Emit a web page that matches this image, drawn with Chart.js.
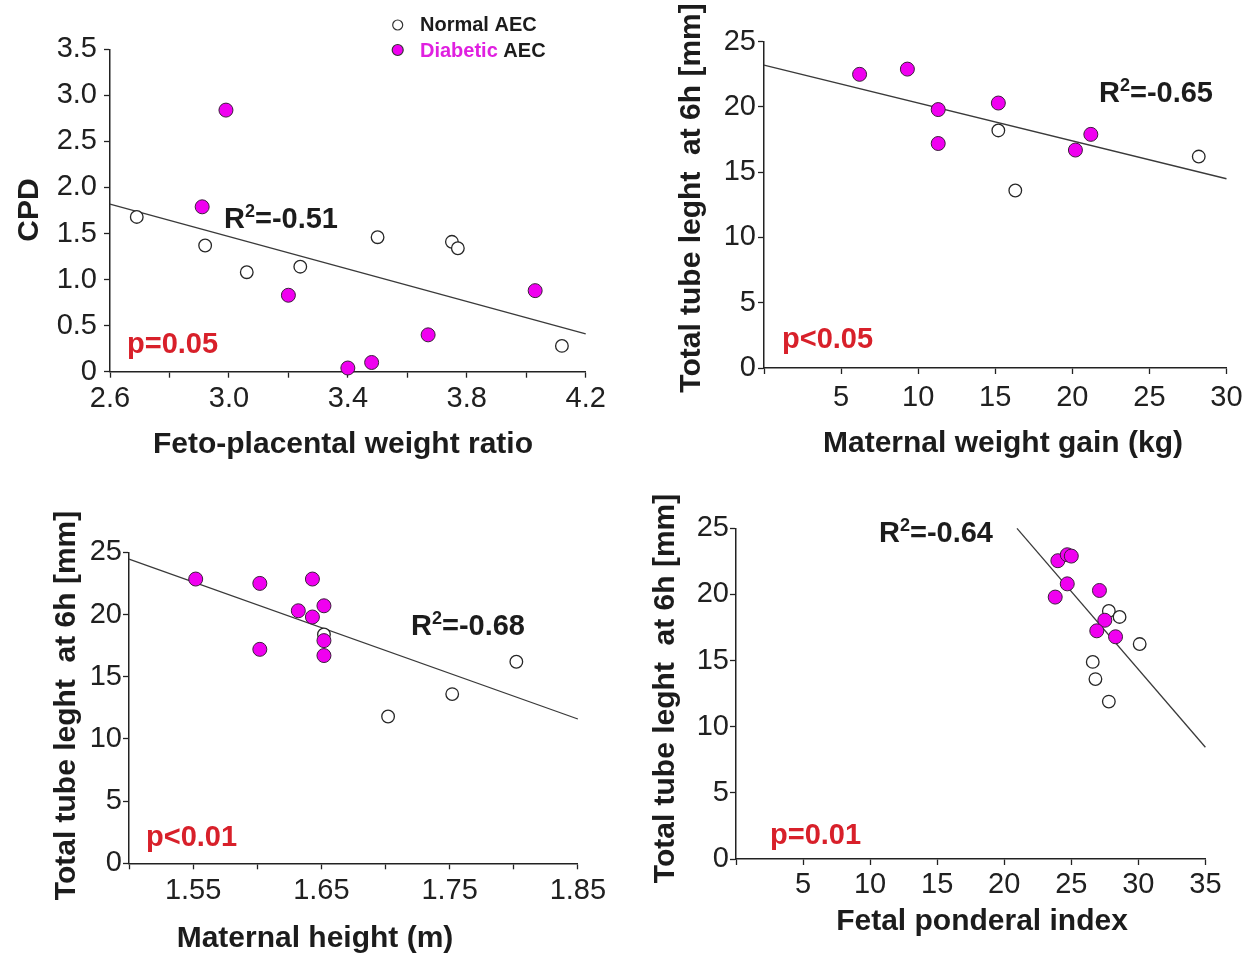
<!DOCTYPE html>
<html>
<head>
<meta charset="utf-8">
<script src="https://cdn.jsdelivr.net/npm/chart.js@4.4.1/dist/chart.umd.min.js"></script>
<style>
  html, body { margin: 0; padding: 0; background: #ffffff; }
  body { width: 1259px; height: 954px; position: relative; overflow: hidden; }
  canvas { position: absolute; }
</style>
</head>
<body>
<canvas id="panelA"></canvas>
<canvas id="panelB"></canvas>
<canvas id="panelC"></canvas>
<canvas id="panelD"></canvas>
<script>
// ---------- Panel A: CPD vs feto-placental weight ratio ----------
const ratioNormal    = [2.69, 2.92, 3.06, 3.24, 3.50, 3.75, 3.77, 4.12];
const cpdNormal      = [1.68, 1.37, 1.08, 1.14, 1.46, 1.41, 1.34, 0.28];
const ratioDiabetic  = [2.99, 2.91, 3.20, 3.40, 3.48, 3.67, 4.03];
const cpdDiabetic    = [2.84, 1.79, 0.83, 0.04, 0.10, 0.40, 0.88];
const ratioFit       = [2.6, 4.2];
const cpdFit         = [1.82, 0.41];
const ratioTicks     = [2.6, 2.8, 3.0, 3.2, 3.4, 3.6, 3.8, 4.0, 4.2];
const ratioTickText  = ['2.6', '', '3.0', '', '3.4', '', '3.8', '', '4.2'];
const cpdTicks       = [0, 0.5, 1.0, 1.5, 2.0, 2.5, 3.0, 3.5];
const cpdTickText    = ['0', '0.5', '1.0', '1.5', '2.0', '2.5', '3.0', '3.5'];

// ---------- Panel B: tube length vs maternal weight gain ----------
const gainNormal     = [15.2, 16.3, 28.2];
const tubeNormalB    = [18.2, 13.6, 16.2];
const gainDiabetic   = [6.2, 9.3, 11.3, 11.3, 15.2, 20.2, 21.2];
const tubeDiabeticB  = [22.5, 22.9, 19.8, 17.2, 20.3, 16.7, 17.9];
const gainFit        = [0, 30];
const tubeFitB       = [23.2, 14.5];
const gainTicks      = [0, 5, 10, 15, 20, 25, 30];
const gainTickText   = ['', '5', '10', '15', '20', '25', '30'];

// ---------- Panel C: tube length vs maternal height ----------
const heightNormal   = [1.652, 1.702, 1.752, 1.802];
const tubeNormalC    = [18.4, 11.8, 13.6, 16.2];
const heightDiabetic = [1.552, 1.602, 1.643, 1.632, 1.643, 1.652, 1.652, 1.652, 1.602];
const tubeDiabeticC  = [22.85, 22.5, 22.85, 20.3, 19.8, 20.7, 17.9, 16.7, 17.2];
const heightFit      = [1.50, 1.85];
const tubeFitC       = [24.45, 11.6];
const heightTicks    = [1.50, 1.55, 1.60, 1.65, 1.70, 1.75, 1.80, 1.85];
const heightTickText = ['', '1.55', '', '1.65', '', '1.75', '', '1.85'];

// ---------- Panel D: tube length vs fetal ponderal index ----------
const ponderalNormal   = [27.8, 28.6, 26.6, 26.8, 27.8, 30.1];
const tubeNormalD      = [18.75, 18.3, 14.9, 13.6, 11.9, 16.25];
const ponderalDiabetic = [24.0, 24.7, 25.0, 24.7, 23.8, 27.1, 27.5, 26.9, 28.3];
const tubeDiabeticD    = [22.55, 23.0, 22.9, 20.8, 19.8, 20.3, 18.05, 17.25, 16.8];
const ponderalFit      = [20.95, 35];
const tubeFitD         = [25.0, 8.45];
const ponderalTicks    = [0, 5, 10, 15, 20, 25, 30, 35];
const ponderalTickText = ['', '5', '10', '15', '20', '25', '30', '35'];

// shared y ticks for tube length
const tubeTicks    = [0, 5, 10, 15, 20, 25];
const tubeTickText = ['0', '5', '10', '15', '20', '25'];

const FONT = "'Liberation Sans', Arial, Helvetica, sans-serif";
const MAGENTA = '#f000f0';
const RED = '#d8202a';
const INK = '#1c1c1c';

function pts(xs, ys) { return xs.map((x, i) => ({ x: x, y: ys[i] })); }

function drawR2(ctx, x, y, value) {
  ctx.fillStyle = INK;
  ctx.textAlign = 'left';
  ctx.textBaseline = 'alphabetic';
  ctx.font = 'bold 29px ' + FONT;
  ctx.fillText('R', x, y);
  let w = ctx.measureText('R').width;
  ctx.font = 'bold 18px ' + FONT;
  ctx.fillText('2', x + w, y - 11);
  w += ctx.measureText('2').width;
  ctx.font = 'bold 29px ' + FONT;
  ctx.fillText('=' + value, x + w, y);
}

function notesPlugin(p) {
  return {
    id: 'notes' + p.id,
    afterDraw(chart) {
      const ctx = chart.ctx;
      const ox = p.box.x, oy = p.box.y;
      ctx.save();
      // y axis title
      ctx.save();
      ctx.translate(p.yTitle.x - ox, p.yTitle.y - oy);
      ctx.rotate(-Math.PI / 2);
      ctx.font = 'bold 30px ' + FONT;
      ctx.fillStyle = INK;
      ctx.textAlign = 'center';
      ctx.textBaseline = 'middle';
      ctx.fillText(p.yTitle.text, 0, 0);
      ctx.restore();
      // x axis title
      ctx.font = 'bold 30px ' + FONT;
      ctx.fillStyle = INK;
      ctx.textAlign = 'center';
      ctx.textBaseline = 'alphabetic';
      ctx.fillText(p.xTitle.text, p.xTitle.x - ox, p.xTitle.y - oy);
      // R squared
      drawR2(ctx, p.r2.x - ox, p.r2.y - oy, p.r2.text);
      // p value
      ctx.font = 'bold 29px ' + FONT;
      ctx.fillStyle = RED;
      ctx.textAlign = 'left';
      ctx.fillText(p.pv.text, p.pv.x - ox, p.pv.y - oy);
      // legend (panel A only)
      if (p.legend) {
        const L = p.legend;
        ctx.lineWidth = 1.2;
        ctx.strokeStyle = '#333';
        ctx.fillStyle = '#fff';
        ctx.beginPath(); ctx.arc(L.x - ox, L.y1 - oy, 5, 0, Math.PI * 2); ctx.fill(); ctx.stroke();
        ctx.fillStyle = MAGENTA;
        ctx.beginPath(); ctx.arc(L.x - ox, L.y2 - oy, 5.5, 0, Math.PI * 2); ctx.fill(); ctx.stroke();
        ctx.font = 'bold 20px ' + FONT;
        ctx.textBaseline = 'alphabetic';
        ctx.fillStyle = INK;
        ctx.fillText('Normal AEC', L.tx - ox, L.b1 - oy);
        ctx.fillStyle = '#e020e0';
        ctx.fillText('Diabetic', L.tx - ox, L.b2 - oy);
        const w = ctx.measureText('Diabetic ').width;
        ctx.fillStyle = INK;
        ctx.fillText('AEC', L.tx - ox + w, L.b2 - oy);
      }
      ctx.restore();
    }
  };
}

function axis(p, which) {
  const isX = which === 'x';
  const a = p.area;
  return {
    type: 'linear',
    min: isX ? p.xMin : p.yMin,
    max: isX ? p.xMax : p.yMax,
    afterBuildTicks: s => { s.ticks = (isX ? p.xTicks : p.yTicks).map(v => ({ value: v })); },
    afterFit: s => {
      if (isX) s.height = p.box.y + p.box.h - a.b;
      else s.width = a.l - p.box.x;
    },
    ticks: {
      autoSkip: false, maxRotation: 0, minRotation: 0,
      padding: isX ? p.xPad : p.yPad,
      color: '#202020',
      font: { family: FONT, size: 29 },
      callback: (v, i) => (isX ? p.xText : p.yText)[i]
    },
    grid: { display: true, drawOnChartArea: false, drawTicks: true, tickLength: 6, tickWidth: 1.3, tickColor: '#222' },
    border: { display: true, color: '#222', width: 1.5 }
  };
}

function panel(p) {
  const canvas = document.getElementById(p.id);
  canvas.width = p.box.w; canvas.height = p.box.h;
  canvas.style.left = p.box.x + 'px'; canvas.style.top = p.box.y + 'px';
  const a = p.area;
  new Chart(canvas, {
    type: 'scatter',
    data: {
      datasets: [
        { label: 'Diabetic AEC', data: pts(p.dx, p.dy), backgroundColor: MAGENTA, borderColor: '#3a1f3a',
          borderWidth: 1, pointRadius: 7, clip: false },
        { label: 'Normal AEC', data: pts(p.nx, p.ny), backgroundColor: '#ffffff', borderColor: '#262626',
          borderWidth: 1.3, pointRadius: 6.3, clip: false },
        { label: 'fit', data: pts(p.fx, p.fy), showLine: true, pointRadius: 0, borderColor: '#3a3a3a',
          borderWidth: 1.3, clip: false }
      ]
    },
    options: {
      responsive: false, animation: false, events: [],
      layout: { padding: { left: 0, top: a.t - p.box.y, right: p.box.x + p.box.w - a.r, bottom: 0 } },
      plugins: { legend: { display: false }, tooltip: { enabled: false } },
      scales: { x: axis(p, 'x'), y: axis(p, 'y') }
    },
    plugins: [notesPlugin(p)]
  });
}

panel({
  id: 'panelA', box: { x: 0, y: 0, w: 630, h: 477 }, area: { l: 110, t: 49.3, r: 585.7, b: 371.7 },
  nx: ratioNormal, ny: cpdNormal, dx: ratioDiabetic, dy: cpdDiabetic, fx: ratioFit, fy: cpdFit,
  xMin: 2.6, xMax: 4.2, xTicks: ratioTicks, xText: ratioTickText, xPad: 4,
  yMin: 0, yMax: 3.5, yTicks: cpdTicks, yText: cpdTickText, yPad: 7,
  yTitle: { text: 'CPD', x: 29.6, y: 210 },
  xTitle: { text: 'Feto-placental weight ratio', x: 343, y: 453.3 },
  r2: { text: '-0.51', x: 224, y: 228.3 },
  pv: { text: 'p=0.05', x: 127, y: 352.7 },
  legend: { x: 397.7, y1: 25, y2: 50, tx: 420, b1: 31, b2: 56.7 }
});

panel({
  id: 'panelB', box: { x: 630, y: 0, w: 629, h: 477 }, area: { l: 764, t: 41.7, r: 1226.5, b: 368 },
  nx: gainNormal, ny: tubeNormalB, dx: gainDiabetic, dy: tubeDiabeticB, fx: gainFit, fy: tubeFitB,
  xMin: 0, xMax: 30, xTicks: gainTicks, xText: gainTickText, xPad: 7,
  yMin: 0, yMax: 25, yTicks: tubeTicks, yText: tubeTickText, yPad: 2,
  yTitle: { text: 'Total tube leght  at 6h [mm]', x: 692, y: 198 },
  xTitle: { text: 'Maternal weight gain (kg)', x: 1003, y: 451.5 },
  r2: { text: '-0.65', x: 1099, y: 101.7 },
  pv: { text: 'p<0.05', x: 782, y: 348.3 }
});

panel({
  id: 'panelC', box: { x: 0, y: 477, w: 630, h: 477 }, area: { l: 129, t: 552.3, r: 577.9, b: 863.3 },
  nx: heightNormal, ny: tubeNormalC, dx: heightDiabetic, dy: tubeDiabeticC, fx: heightFit, fy: tubeFitC,
  xMin: 1.50, xMax: 1.85, xTicks: heightTicks, xText: heightTickText, xPad: 4,
  yMin: 0, yMax: 25, yTicks: tubeTicks, yText: tubeTickText, yPad: 1,
  yTitle: { text: 'Total tube leght  at 6h [mm]', x: 66.4, y: 705.5 },
  xTitle: { text: 'Maternal height (m)', x: 315, y: 946.5 },
  r2: { text: '-0.68', x: 411, y: 635 },
  pv: { text: 'p<0.01', x: 146, y: 846 }
});

panel({
  id: 'panelD', box: { x: 630, y: 477, w: 629, h: 477 }, area: { l: 736, t: 528.3, r: 1205.4, b: 859 },
  nx: ponderalNormal, ny: tubeNormalD, dx: ponderalDiabetic, dy: tubeDiabeticD, fx: ponderalFit, fy: tubeFitD,
  xMin: 0, xMax: 35, xTicks: ponderalTicks, xText: ponderalTickText, xPad: 3,
  yMin: 0, yMax: 25, yTicks: tubeTicks, yText: tubeTickText, yPad: 1,
  yTitle: { text: 'Total tube leght  at 6h [mm]', x: 665.6, y: 688.5 },
  xTitle: { text: 'Fetal ponderal index', x: 982, y: 929.5 },
  r2: { text: '-0.64', x: 879, y: 541.7 },
  pv: { text: 'p=0.01', x: 770, y: 844 }
});
</script>
</body>
</html>
